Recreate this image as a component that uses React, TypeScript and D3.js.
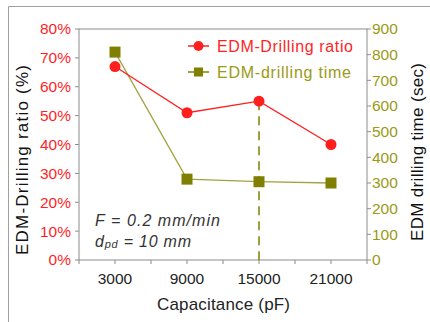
import { useEffect, useRef } from 'react';
import * as d3 from 'd3';

const capacitance = ['3000', '9000', '15000', '21000'];
const drillingRatio = [67, 51, 55, 40];
const drillingTime = [810, 315, 305, 300];
const ratioTicks = [0, 10, 20, 30, 40, 50, 60, 70, 80];
const timeTicks = [0, 100, 200, 300, 400, 500, 600, 700, 800, 900];
const markedCategory = '15000';

const RED = '#ff1f1f';
const OLIVE = '#808000';
const OLIVE_TEXT = '#9a9a14';
const FONT = 'Liberation Sans, Arial, sans-serif';

export default function App() {
  const svgRef = useRef<SVGSVGElement | null>(null);

  useEffect(() => {
    if (!svgRef.current) return;
    const svg = d3.select(svgRef.current);
    svg.selectAll('*').remove();

    const left = 79, right = 367, top = 29, bottom = 260;

    const x = d3.scaleBand().domain(capacitance).range([left, right]).padding(0);
    const cx = (c: string) => (x(c) as number) + x.bandwidth() / 2;
    const yL = d3.scaleLinear().domain([0, 80]).range([bottom, top]);
    const yR = d3.scaleLinear().domain([0, 900]).range([bottom, top]);

    // outer frame (top + left edge)
    svg.append('path')
      .attr('d', 'M8.5,322 V6.5 H430')
      .attr('fill', 'none').attr('stroke', '#a0a0a0').attr('stroke-width', 1);

    // plot box
    svg.append('rect')
      .attr('x', left).attr('y', top)
      .attr('width', right - left).attr('height', bottom - top)
      .attr('fill', 'none').attr('stroke', '#8c8c8c').attr('stroke-width', 1);

    // x ticks: band edges and centers
    const xTickPos: number[] = [];
    capacitance.forEach(c => { xTickPos.push(x(c) as number); xTickPos.push(cx(c)); });
    xTickPos.push(right);
    svg.append('g').selectAll('line').data(xTickPos).join('line')
      .attr('x1', d => d).attr('x2', d => d)
      .attr('y1', bottom).attr('y2', bottom + 4)
      .attr('stroke', '#8c8c8c');
    svg.append('g').selectAll('text').data(capacitance).join('text')
      .attr('x', d => cx(d)).attr('y', 284)
      .attr('text-anchor', 'middle')
      .attr('font-family', FONT).attr('font-size', 15.5).attr('fill', '#222')
      .text(d => d);

    // left axis
    svg.append('g').selectAll('line').data(ratioTicks).join('line')
      .attr('x1', left - 4).attr('x2', left)
      .attr('y1', d => yL(d)).attr('y2', d => yL(d))
      .attr('stroke', '#8c8c8c');
    svg.append('g').selectAll('text').data(ratioTicks).join('text')
      .attr('x', 71).attr('y', d => yL(d)).attr('dy', '0.35em')
      .attr('text-anchor', 'end')
      .attr('font-family', FONT).attr('font-size', 15.5).attr('fill', RED)
      .text(d => `${d}%`);

    // right axis
    svg.append('g').selectAll('line').data(timeTicks).join('line')
      .attr('x1', right).attr('x2', right + 4)
      .attr('y1', d => yR(d)).attr('y2', d => yR(d))
      .attr('stroke', '#8c8c8c');
    svg.append('g').selectAll('text').data(timeTicks).join('text')
      .attr('x', 372).attr('y', d => yR(d)).attr('dy', '0.35em')
      .attr('text-anchor', 'start')
      .attr('font-family', FONT).attr('font-size', 15.5).attr('fill', OLIVE_TEXT)
      .text(d => d);

    // axis titles (stretched to the measured lengths of the original)
    svg.append('text')
      .attr('transform', 'translate(28, 160) rotate(-90)')
      .attr('text-anchor', 'middle')
      .attr('font-family', FONT).attr('font-size', 17).attr('fill', '#111')
      .attr('textLength', 190).attr('lengthAdjust', 'spacing')
      .text('EDM-Drilling ratio (%)');
    svg.append('text')
      .attr('transform', 'translate(423, 152) rotate(-90)')
      .attr('text-anchor', 'middle')
      .attr('font-family', FONT).attr('font-size', 17).attr('fill', '#111')
      .attr('textLength', 178).attr('lengthAdjust', 'spacing')
      .text('EDM drilling time (sec)');
    svg.append('text')
      .attr('x', 223.5).attr('y', 310)
      .attr('text-anchor', 'middle')
      .attr('font-family', FONT).attr('font-size', 17).attr('fill', '#222')
      .attr('textLength', 133).attr('lengthAdjust', 'spacing')
      .text('Capacitance (pF)');

    // dashed marker line
    const mi = capacitance.indexOf(markedCategory);
    svg.append('line')
      .attr('x1', cx(markedCategory)).attr('x2', cx(markedCategory))
      .attr('y1', yL(drillingRatio[mi])).attr('y2', bottom)
      .attr('stroke', OLIVE).attr('stroke-width', 1.5)
      .attr('stroke-dasharray', '9,6');

    // time series
    const timeLine = d3.line<number>()
      .x((_, i) => cx(capacitance[i]))
      .y(d => yR(d));
    svg.append('path')
      .attr('d', timeLine(drillingTime))
      .attr('fill', 'none').attr('stroke', '#a3a342').attr('stroke-width', 1.3);

    // ratio series
    const ratioLine = d3.line<number>()
      .x((_, i) => cx(capacitance[i]))
      .y(d => yL(d));
    svg.append('path')
      .attr('d', ratioLine(drillingRatio))
      .attr('fill', 'none').attr('stroke', RED).attr('stroke-width', 1.3);

    svg.append('g').selectAll('rect').data(drillingTime).join('rect')
      .attr('x', (_, i) => cx(capacitance[i]) - 5.5)
      .attr('y', d => yR(d) - 5.5)
      .attr('width', 11).attr('height', 11)
      .attr('fill', OLIVE);

    svg.append('g').selectAll('circle').data(drillingRatio).join('circle')
      .attr('cx', (_, i) => cx(capacitance[i]))
      .attr('cy', d => yL(d))
      .attr('r', 5.5)
      .attr('fill', RED);

    // legend
    const lg = svg.append('g');
    lg.append('line').attr('x1', 188).attr('x2', 209).attr('y1', 46).attr('y2', 46)
      .attr('stroke', RED).attr('stroke-width', 1.5);
    lg.append('circle').attr('cx', 198.5).attr('cy', 46).attr('r', 5).attr('fill', RED);
    lg.append('text').attr('x', 217).attr('y', 52)
      .attr('font-family', FONT).attr('font-size', 16).attr('fill', RED)
      .attr('textLength', 136).attr('lengthAdjust', 'spacing')
      .text('EDM-Drilling ratio');
    lg.append('line').attr('x1', 188).attr('x2', 209).attr('y1', 72).attr('y2', 72)
      .attr('stroke', OLIVE).attr('stroke-width', 1.5);
    lg.append('rect').attr('x', 194).attr('y', 67.5).attr('width', 9).attr('height', 9).attr('fill', OLIVE);
    lg.append('text').attr('x', 217).attr('y', 78)
      .attr('font-family', FONT).attr('font-size', 16).attr('fill', OLIVE_TEXT)
      .attr('textLength', 134).attr('lengthAdjust', 'spacing')
      .text('EDM-drilling time');

    // annotation
    const note = svg.append('g')
      .attr('font-family', FONT).attr('font-size', 16).attr('font-style', 'italic').attr('fill', '#333');
    note.append('text').attr('x', 95).attr('y', 226)
      .attr('textLength', 125).attr('lengthAdjust', 'spacing')
      .text('F = 0.2 mm/min');
    const t2 = note.append('text').attr('x', 95).attr('y', 247)
      .attr('textLength', 96).attr('lengthAdjust', 'spacing');
    t2.append('tspan').text('d');
    t2.append('tspan').attr('font-size', 11).attr('dy', 1).text('pd');
    t2.append('tspan').attr('dy', -1).text(' = 10 mm');
  }, []);

  return (
    <svg
      ref={svgRef}
      width={430}
      height={322}
      style={{ position: 'absolute', left: 0, top: 0, background: '#fff' }}
    />
  );
}
